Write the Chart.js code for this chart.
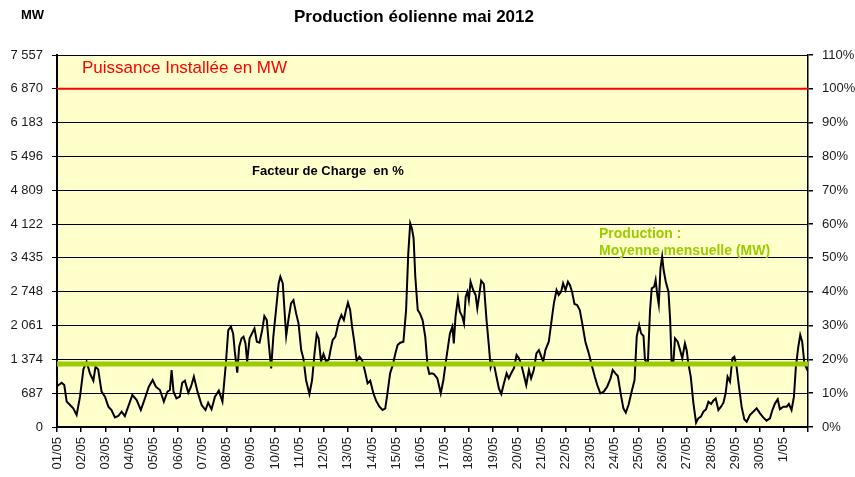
<!DOCTYPE html>
<html>
<head>
<meta charset="utf-8">
<script src="https://cdn.jsdelivr.net/npm/chart.js@4.4.0/dist/chart.umd.min.js"></script>
<style>
  html, body { margin: 0; padding: 0; background: #fff; }
  #wrap { width: 855px; height: 477px; }
</style>
</head>
<body>
<div id="wrap"><canvas id="c" width="855" height="477"></canvas></div>
<script>
// tick labels (one per day, day 0 = 01/05)
const dayLabels = ['01/05', '02/05', '03/05', '04/05', '05/05', '06/05', '07/05', '08/05', '09/05', '10/05',
    '11/05', '12/05', '13/05', '14/05', '15/05', '16/05', '17/05', '18/05', '19/05', '20/05',
    '21/05', '22/05', '23/05', '24/05', '25/05', '26/05', '27/05', '28/05', '29/05', '30/05', '1/05'];

// production (x = days since 01/05, y = MW)
const dayPos = [
    0, 0.19, 0.30, 0.40, 0.54, 0.67, 0.81, 0.95, 1.09, 1.22, 1.36, 1.50, 1.59, 1.70, 1.84, 1.98,
    2.12, 2.25, 2.39, 2.53, 2.67, 2.80, 2.94, 3.11, 3.29, 3.46, 3.63, 3.79, 3.95, 4.08, 4.25, 4.41,
    4.56, 4.66, 4.73, 4.81, 4.93, 5.07, 5.17, 5.28, 5.42, 5.53, 5.65, 5.80, 5.97, 6.13, 6.24, 6.38,
    6.52, 6.68, 6.83, 6.96, 7.07, 7.18, 7.27, 7.34, 7.44, 7.52, 7.62, 7.70, 7.78, 7.85, 7.95, 8.05,
    8.15, 8.25, 8.36, 8.47, 8.56, 8.66, 8.74, 8.84, 8.93, 9.04, 9.15, 9.22, 9.32, 9.39, 9.46, 9.55,
    9.66, 9.76, 9.87, 9.97, 10.08, 10.17, 10.28, 10.42, 10.53, 10.63, 10.72, 10.80, 10.90, 11.00, 11.11, 11.22,
    11.29, 11.38, 11.49, 11.63, 11.74, 11.84, 11.93, 12.01, 12.10, 12.18, 12.27, 12.37, 12.48, 12.59, 12.70, 12.82,
    12.93, 13.06, 13.17, 13.31, 13.44, 13.55, 13.65, 13.75, 13.86, 13.97, 14.06, 14.17, 14.30, 14.41, 14.50, 14.58,
    14.65, 14.72, 14.79, 14.89, 14.98, 15.09, 15.20, 15.30, 15.37, 15.47, 15.56, 15.70, 15.84, 15.95, 16.08, 16.22,
    16.32, 16.38, 16.45, 16.55, 16.63, 16.73, 16.80, 16.87, 16.94, 17.00, 17.07, 17.18, 17.28, 17.35, 17.42, 17.51,
    17.62, 17.73, 17.83, 17.90, 17.97, 18.03, 18.14, 18.24, 18.34, 18.45, 18.56, 18.65, 18.76, 18.86, 18.97, 19.07,
    19.16, 19.27, 19.37, 19.48, 19.57, 19.68, 19.79, 19.89, 19.99, 20.07, 20.16, 20.30, 20.40, 20.51, 20.62, 20.71,
    20.81, 20.89, 20.99, 21.09, 21.17, 21.26, 21.36, 21.47, 21.58, 21.68, 21.81, 21.95, 22.09, 22.20, 22.30, 22.43,
    22.57, 22.71, 22.85, 22.94, 23.05, 23.15, 23.29, 23.38, 23.48, 23.59, 23.72, 23.84, 23.93, 24.03, 24.11, 24.21,
    24.27, 24.39, 24.48, 24.55, 24.65, 24.71, 24.78, 24.84, 24.91, 24.98, 25.04, 25.13, 25.24, 25.31, 25.37, 25.44,
    25.51, 25.62, 25.72, 25.81, 25.92, 25.99, 26.06, 26.16, 26.27, 26.38, 26.47, 26.58, 26.68, 26.79, 26.89, 27.00,
    27.09, 27.19, 27.30, 27.41, 27.51, 27.60, 27.68, 27.78, 27.88, 27.96, 28.05, 28.15, 28.26, 28.37, 28.47, 28.60,
    28.74, 28.88, 29.02, 29.15, 29.29, 29.43, 29.53, 29.64, 29.75, 29.84, 29.98, 30.12, 30.21, 30.32, 30.42, 30.50,
    30.60, 30.68, 30.76, 30.85, 30.94, 31.00
];
const prodMw = [
    830, 900, 853, 515, 447, 380, 244, 616, 1171, 1327, 1090, 940, 1225, 1171, 718, 616,
    413, 345, 196, 223, 311, 223, 413, 650, 548, 345, 582, 819, 955, 819, 751, 515,
    718, 751, 1157, 718, 582, 616, 900, 941, 697, 819, 1022, 718, 447, 345, 494, 359,
    616, 738, 515, 1225, 1970, 2038, 1902, 1530, 1104, 1632, 1801, 1835, 1699, 1327, 1801, 1902,
    2004, 1733, 1713, 1970, 2254, 2173, 1699, 1192, 1835, 2376, 2918, 3053, 2918, 2376, 1848, 2173,
    2512, 2579, 2308, 2105, 1564, 1395, 955, 670, 955, 1496, 1889, 1801, 1327, 1483, 1327, 1374,
    1564, 1767, 1835, 2139, 2275, 2173, 2376, 2525, 2376, 2038, 1733, 1347, 1428, 1361, 1158, 887,
    941, 684, 535, 413, 345, 379, 718, 1090, 1259, 1496, 1665, 1713, 1733, 2376, 3527, 4136,
    4035, 3832, 3053, 2376, 2308, 2173, 1835, 1225, 1076, 1090, 1076, 988, 684, 955, 1428, 1902,
    2038, 1699, 2241, 2613, 2342, 2241, 2105, 2647, 2749, 2579, 2952, 2782, 2681, 2410, 2647, 2972,
    2904, 2173, 1632, 1212, 1327, 1293, 1022, 785, 670, 887, 1090, 988, 1104, 1192, 1462, 1395,
    1280, 1056, 853, 1158, 988, 1158, 1496, 1564, 1428, 1327, 1564, 1733, 2105, 2512, 2782, 2681,
    2749, 2918, 2782, 2952, 2884, 2749, 2498, 2478, 2376, 2105, 1733, 1496, 1225, 1022, 853, 684,
    718, 819, 988, 1158, 1090, 1036, 616, 379, 291, 447, 718, 955, 1835, 2072, 1902, 1848,
    1361, 1293, 2376, 2816, 2850, 2986, 2681, 2491, 3223, 3459, 3189, 2952, 2749, 2173, 1307, 1293,
    1801, 1733, 1564, 1395, 1699, 1564, 1293, 1022, 481, 88, 176, 210, 311, 359, 515, 467,
    535, 582, 345, 413, 494, 684, 1022, 921, 1395, 1428, 1225, 819, 413, 156, 108, 244,
    311, 379, 278, 196, 129, 176, 345, 481, 562, 359, 413, 413, 467, 345, 616, 1225,
    1632, 1868, 1733, 1293, 1192, 1293
];

const installedMw = 6870;   // Puissance installée
const meanMw = 1280;        // moyenne mensuelle
const mwMax = 7557;
const mwStep = 687;
const pctMax = 110;
const pctStep = 10;

const FONT = '"Liberation Sans", Arial, sans-serif';
const GREEN = '#99cc00';

function fmtMw(v) {
    return String(v).replace(/\B(?=(\d{3})+(?!\d))/g, ' ');
}

const plotBg = {
    id: 'plotBg',
    beforeDraw(chart) {
        const { ctx, chartArea: a } = chart;
        ctx.save();
        ctx.fillStyle = '#ffffcc';
        ctx.fillRect(a.left, a.top, a.right - a.left, a.bottom - a.top);
        ctx.restore();
    }
};

const texts = {
    id: 'texts',
    afterDraw(chart) {
        const ctx = chart.ctx;
        ctx.save();
        ctx.textBaseline = 'alphabetic';
        ctx.fillStyle = '#000';
        ctx.font = 'bold 13px ' + FONT;
        ctx.textAlign = 'left';
        ctx.fillText('MW', 21, 19);
        ctx.font = 'bold 17px ' + FONT;
        ctx.textAlign = 'center';
        ctx.fillText('Production éolienne mai 2012', 414, 22);
        ctx.textAlign = 'left';
        ctx.fillStyle = '#ff0000';
        ctx.font = '17px ' + FONT;
        ctx.fillText('Puissance Installée en MW', 82, 73);
        ctx.fillStyle = '#000';
        ctx.font = 'bold 13px ' + FONT;
        ctx.fillText('Facteur de Charge  en %', 252, 175);
        ctx.fillStyle = GREEN;
        ctx.font = 'bold 14px ' + FONT;
        ctx.fillText('Production :', 599, 238);
        ctx.fillText('Moyenne mensuelle (MW)', 599, 255);
        ctx.restore();
    }
};

const prodPoints = dayPos.map((d, i) => ({ x: d, y: prodMw[i] }));

new Chart(document.getElementById('c'), {
    type: 'line',
    data: {
        datasets: [
            {
                label: 'Moyenne',
                data: [{ x: 0, y: meanMw }, { x: 31, y: meanMw }],
                borderColor: GREEN,
                borderWidth: 5,
                pointRadius: 0
            },
            {
                label: 'Production',
                data: prodPoints,
                borderColor: '#000',
                borderWidth: 2,
                pointRadius: 0,
                tension: 0
            },
            {
                label: 'Puissance installée',
                data: [{ x: 0, y: installedMw }, { x: 31, y: installedMw }],
                borderColor: '#ff0000',
                borderWidth: 2,
                pointRadius: 0
            }
        ]
    },
    options: {
        responsive: false,
        animation: false,
        devicePixelRatio: 1,
        layout: { padding: { top: 55, left: 0, right: 0, bottom: 0 } },
        plugins: { legend: { display: false }, tooltip: { enabled: false } },
        scales: {
            x: {
                type: 'linear',
                min: 0,
                max: 31,
                afterFit: s => { s.height = 50; },
                grid: { drawOnChartArea: false, drawTicks: true, tickLength: 5, color: '#000', lineWidth: 1.5 },
                border: { color: '#000', width: 1.5 },
                ticks: {
                    stepSize: 1,
                    autoSkip: false,
                    minRotation: 90,
                    maxRotation: 90,
                    padding: 5,
                    color: '#1a1a1a',
                    font: { family: FONT, size: 13 },
                    callback: v => dayLabels[v] || ''
                }
            },
            y: {
                position: 'left',
                min: 0,
                max: mwMax,
                afterFit: s => { s.width = 57; },
                grid: { color: '#000', lineWidth: 1, tickLength: 5 },
                border: { color: '#000', width: 2 },
                ticks: {
                    stepSize: mwStep,
                    padding: 9,
                    color: '#1a1a1a',
                    font: { family: FONT, size: 13 },
                    callback: v => fmtMw(v)
                }
            },
            y2: {
                position: 'right',
                min: 0,
                max: pctMax,
                afterFit: s => { s.width = 47; },
                grid: { drawOnChartArea: false, color: '#000', lineWidth: 1.5, tickLength: 5 },
                border: { color: '#000', width: 1.5 },
                ticks: {
                    stepSize: pctStep,
                    padding: 9,
                    color: '#1a1a1a',
                    font: { family: FONT, size: 13 },
                    callback: v => v + '%'
                }
            }
        }
    },
    plugins: [plotBg, texts]
});
</script>
</body>
</html>
